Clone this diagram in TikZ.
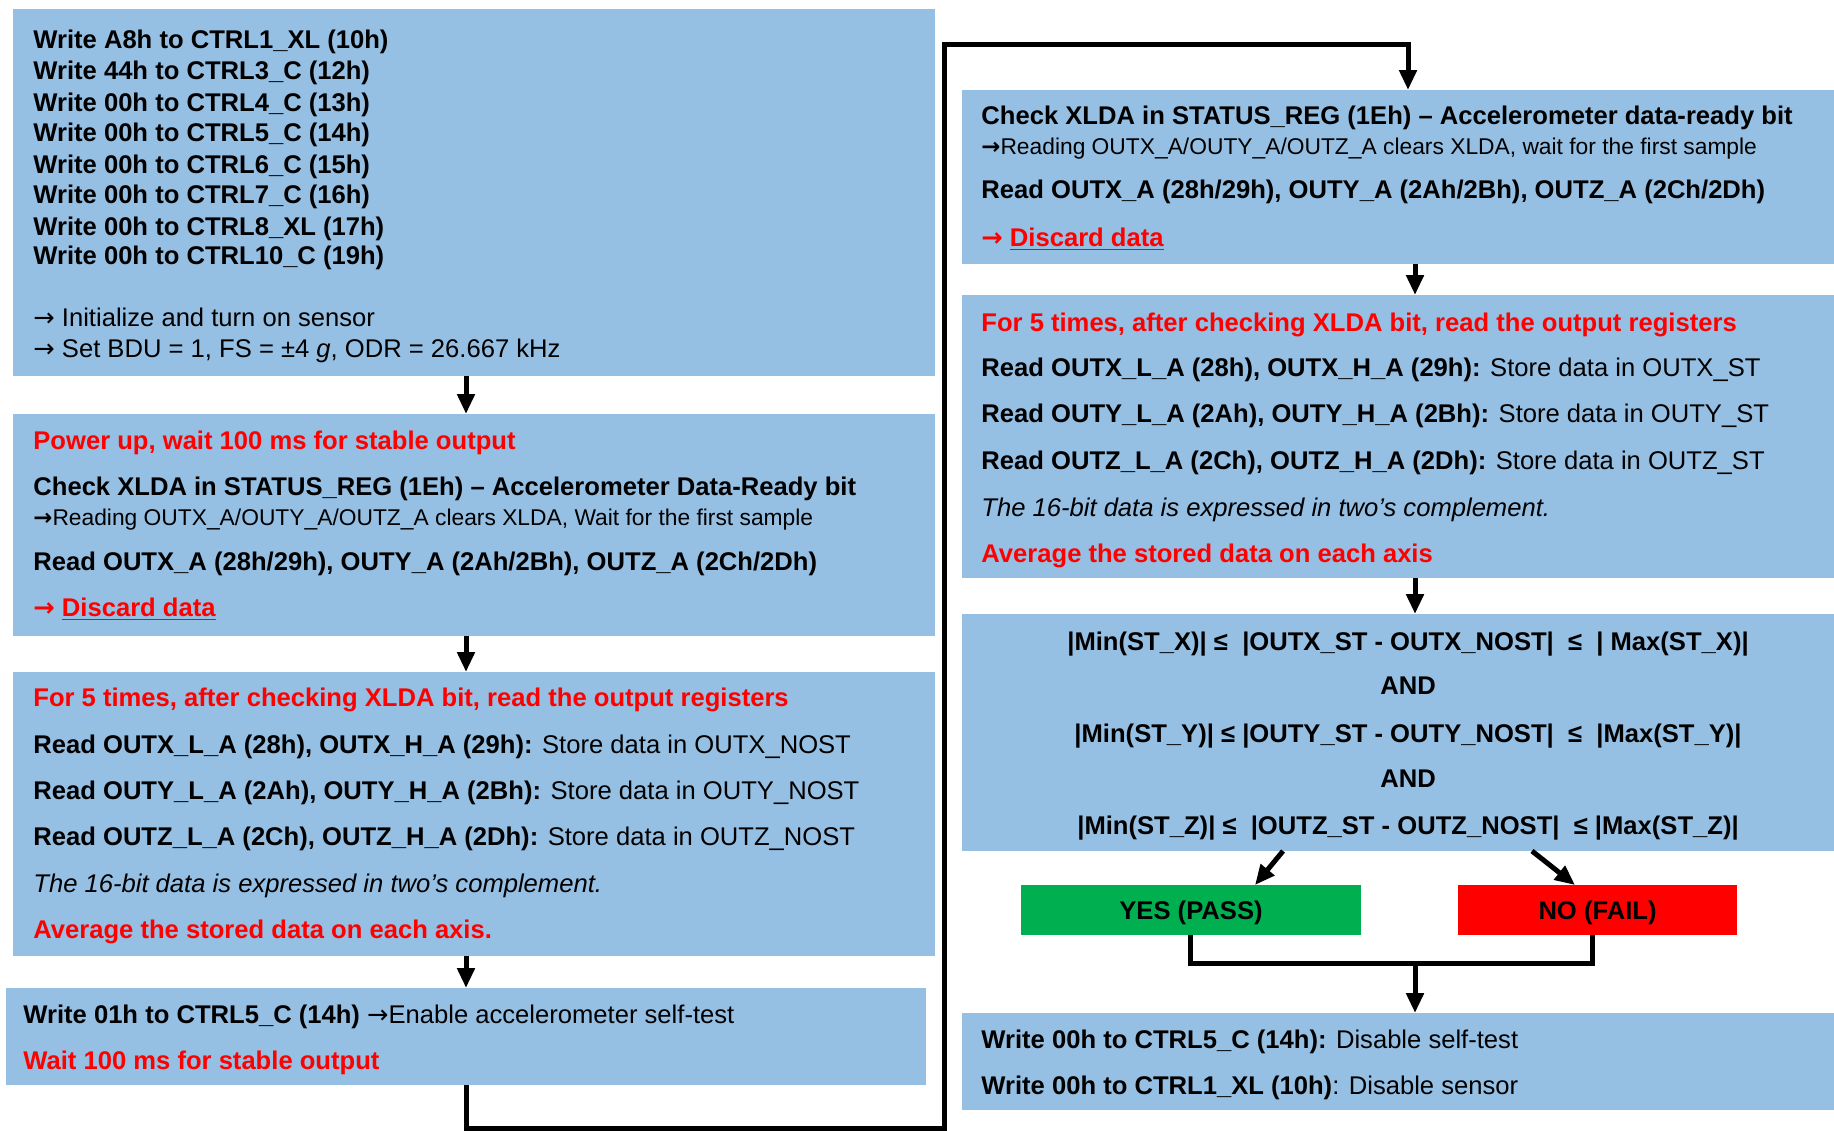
\documentclass[tikz,border=0pt]{standalone}
\usepackage{fontspec}
\setmainfont{Liberation Sans}
\newfontfamily\arrfont{DejaVu Sans}
\usetikzlibrary{arrows.meta}
\definecolor{boxblue}{RGB}{149,191,227}
\definecolor{passgreen}{RGB}{0,176,80}
\definecolor{failred}{RGB}{255,0,0}
\definecolor{txtred}{RGB}{255,0,0}
\newcommand{\ar}{{\arrfont →}}
\newcommand{\arb}{{\arrfont\bfseries →}}
\begin{document}
\begin{tikzpicture}[x=0.5pt,y=-0.5pt,
  box/.style={fill=boxblue,draw=none,anchor=north west,inner sep=0pt,outer sep=0pt},
  ln/.style={anchor=base west,inner sep=0pt,font=\fontsize{12.8}{14}\selectfont},
  bl/.style={anchor=base west,inner sep=0pt,font=\fontsize{12.8}{14}\selectfont\bfseries},
  lnc/.style={anchor=base,inner sep=0pt,font=\fontsize{12.8}{14}\selectfont\bfseries},
  sm/.style={anchor=base west,inner sep=0pt,font=\fontsize{11.4}{13}\selectfont},
  arr/.style={line width=2.5pt,-{Triangle[width=8.5pt,length=10pt]}},
  conn/.style={line width=2.5pt},
  rd/.style={text=txtred}]
\useasboundingbox (0,0) rectangle (1834,1130);
% boxes
\node[box,minimum width=461pt,minimum height=183.5pt] (b1) at (13,9) {};
\node[box,minimum width=461pt,minimum height=111pt] (b2) at (13,414) {};
\node[box,minimum width=461pt,minimum height=142pt] (b3) at (13,672) {};
\node[box,minimum width=460pt,minimum height=48.5pt] (b4) at (6,988) {};
\node[box,minimum width=436pt,minimum height=87pt] (b5) at (962,90) {};
\node[box,minimum width=436pt,minimum height=141.5pt] (b6) at (962,295) {};
\node[box,minimum width=436pt,minimum height=118.5pt] (b7) at (962,614) {};
\node[box,minimum width=436pt,minimum height=48.5pt] (b8) at (962,1013) {};
\node[box,fill=passgreen,minimum width=170pt,minimum height=25pt] (yes) at (1021,885) {};
\node[box,fill=failred,minimum width=139.5pt,minimum height=25pt] (no) at (1458,885) {};
\node[lnc] (yest) at (yes.center) [yshift=-4.5pt] {YES (PASS)};
\node[lnc] (not) at (no.center) [yshift=-4.5pt] {NO (FAIL)};
% box 1 text
\node[bl] (t11) at (33,48) {Write A8h to CTRL1\_XL (10h)};
\node[bl] (t12) at (33,79) {Write 44h to CTRL3\_C (12h)};
\node[bl] (t13) at (33,111) {Write 00h to CTRL4\_C (13h)};
\node[bl] (t14) at (33,141) {Write 00h to CTRL5\_C (14h)};
\node[bl] (t15) at (33,173) {Write 00h to CTRL6\_C (15h)};
\node[bl] (t16) at (33,203) {Write 00h to CTRL7\_C (16h)};
\node[bl] (t17) at (33,235) {Write 00h to CTRL8\_XL (17h)};
\node[bl] (t18) at (33,264) {Write 00h to CTRL10\_C (19h)};
\node[ln] (t19) at (33,326) {\ar\ Initialize and turn on sensor};
\node[ln] (t1a) at (33,357) {\ar\ Set BDU = 1, FS = ±4 \textit{g}, ODR = 26.667 kHz};
% box 2 text
\node[bl,rd] (t21) at (33,449) {Power up, wait 100 ms for stable output};
\node[bl] (t22) at (33,495) {Check XLDA in STATUS\_REG (1Eh) – Accelerometer Data-Ready bit};
\node[sm] (t23) at (33,525) {\arb Reading OUTX\_A/OUTY\_A/OUTZ\_A clears XLDA, Wait for the first sample};
\node[bl] (t24) at (33,570) {Read OUTX\_A (28h/29h), OUTY\_A (2Ah/2Bh), OUTZ\_A (2Ch/2Dh)};
\node[bl,rd] (t25) at (33,616) {\arb\ \underline{Discard data}};
% box 3 text
\node[bl,rd] (t31) at (33,706) {For 5 times, after checking XLDA bit, read the output registers};
\node[ln] (t32) at (33,753) {\textbf{Read OUTX\_L\_A (28h), OUTX\_H\_A (29h):} Store data in OUTX\_NOST};
\node[ln] (t33) at (33,799) {\textbf{Read OUTY\_L\_A (2Ah), OUTY\_H\_A (2Bh):} Store data in OUTY\_NOST};
\node[ln] (t34) at (33,845) {\textbf{Read OUTZ\_L\_A (2Ch), OUTZ\_H\_A (2Dh):} Store data in OUTZ\_NOST};
\node[ln,font=\fontsize{12.8}{14}\selectfont\itshape] (t35) at (33,892) {The 16-bit data is expressed in two’s complement.};
\node[bl,rd] (t36) at (33,938) {Average the stored data on each axis.};
% box 4 text
\node[ln] (t41) at (23,1023) {\textbf{Write 01h to CTRL5\_C (14h)} \ar Enable accelerometer self-test};
\node[bl,rd] (t42) at (23,1069) {Wait 100 ms for stable output};
% box 5 text
\node[bl] (t51) at (981,124) {Check XLDA in STATUS\_REG (1Eh) – Accelerometer data-ready bit};
\node[sm] (t52) at (981,154) {\arb Reading OUTX\_A/OUTY\_A/OUTZ\_A clears XLDA, wait for the first sample};
\node[bl] (t53) at (981,198) {Read OUTX\_A (28h/29h), OUTY\_A (2Ah/2Bh), OUTZ\_A (2Ch/2Dh)};
\node[bl,rd] (t54) at (981,246) {\arb\ \underline{Discard data}};
% box 6 text
\node[bl,rd] (t61) at (981,331) {For 5 times, after checking XLDA bit, read the output registers};
\node[ln] (t62) at (981,376) {\textbf{Read OUTX\_L\_A (28h), OUTX\_H\_A (29h):} Store data in OUTX\_ST};
\node[ln] (t63) at (981,422) {\textbf{Read OUTY\_L\_A (2Ah), OUTY\_H\_A (2Bh):} Store data in OUTY\_ST};
\node[ln] (t64) at (981,469) {\textbf{Read OUTZ\_L\_A (2Ch), OUTZ\_H\_A (2Dh):} Store data in OUTZ\_ST};
\node[ln,font=\fontsize{12.8}{14}\selectfont\itshape] (t65) at (981,516) {The 16-bit data is expressed in two’s complement.};
\node[bl,rd] (t66) at (981,562) {Average the stored data on each axis};
% box 7 text
\node[lnc] (t71) at (1408,650) {|Min(ST\_X)| ≤ \ |OUTX\_ST - OUTX\_NOST| \ ≤ \ | Max(ST\_X)|};
\node[lnc] (t72) at (1408,694) {AND};
\node[lnc] (t73) at (1408,742) {|Min(ST\_Y)| ≤ |OUTY\_ST - OUTY\_NOST| \ ≤ \ |Max(ST\_Y)|};
\node[lnc] (t74) at (1408,787) {AND};
\node[lnc] (t75) at (1408,834) {|Min(ST\_Z)| ≤ \ |OUTZ\_ST - OUTZ\_NOST| \ ≤ |Max(ST\_Z)|};
% box 8 text
\node[ln] (t81) at (981,1048) {\textbf{Write 00h to CTRL5\_C (14h):} Disable self-test};
\node[ln] (t82) at (981,1094) {\textbf{Write 00h to CTRL1\_XL (10h)}: Disable sensor};
% helper coordinates
\coordinate (axL) at (466,0);
\coordinate (axR) at (1415,0);
\coordinate (ax5) at (1408,0);
\coordinate (lb) at (944,1128);
\coordinate (lt) at (944,44);
\coordinate (ya) at (1283,0);
\coordinate (yb) at (1255,0);
\coordinate (na) at (1532,0);
\coordinate (nb) at (1575,0);
\coordinate (m1) at (1190,0);
\coordinate (m2) at (1592,0);
\coordinate (mj) at (1415,963);
% connectors
\draw[arr] (b1.south -| axL) -- (b2.north -| axL);
\draw[arr] (b2.south -| axL) -- (b3.north -| axL);
\draw[arr] (b3.south -| axL) -- (b4.north -| axL);
\draw[arr] (b4.south -| axL) -- (axL |- lb) -- (lb) -- (lt) -- (lt -| ax5) -- (b5.north -| ax5);
\draw[arr] (b5.south -| axR) -- (b6.north -| axR);
\draw[arr] (b6.south -| axR) -- (b7.north -| axR);
\draw[arr] (b7.south -| ya) -- (yes.north -| yb);
\draw[arr] (b7.south -| na) -- (no.north -| nb);
\draw[conn] (yes.south -| m1) -- (m1 |- mj) -- (m2 |- mj) -- (no.south -| m2);
\draw[arr] (mj) -- (b8.north -| axR);
\end{tikzpicture}
\end{document}
